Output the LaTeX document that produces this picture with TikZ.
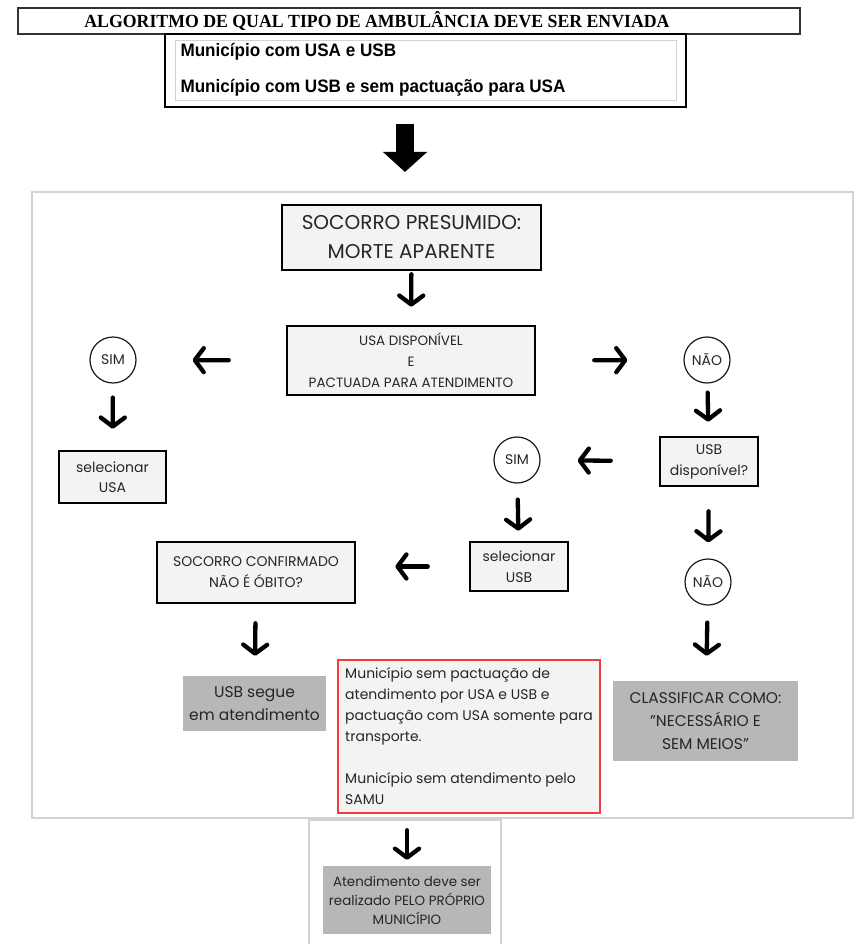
\documentclass[tikz,border=0pt]{standalone}
\usepackage{fontspec}
\setmainfont{Poppins}
\newfontfamily\titlefont[FakeStretch=0.96]{Liberation Serif}
\newfontfamily\headfont[FakeStretch=0.95]{Liberation Sans}
\usetikzlibrary{arrows.meta, positioning}

\definecolor{boxfill}{HTML}{F3F3F3}
\definecolor{darkfill}{HTML}{B7B7B7}
\definecolor{panelline}{HTML}{D3D3D3}
\definecolor{alertred}{HTML}{F03C3C}
\newcommand{\fs}[2]{\fontsize{#1}{#2}\selectfont}

\begin{document}
\begin{tikzpicture}[x=1pt, y=-1pt,
    box/.style={draw=black, line width=2.6pt, fill=boxfill, align=center, inner sep=0pt, text=black!85},
    grey/.style={fill=darkfill, align=center, inner sep=0pt, text=black!85},
    yesno/.style={circle, draw=black!90, line width=1.2pt, fill=white, minimum size=46pt, inner sep=0pt, text=black!85, font=\fs{14}{15}},
    panel/.style={draw=panelline, line width=1.5pt, inner sep=0pt},
    arr/.style={line width=4.3pt, line cap=round, -{Straight Barb[length=9pt, width=24pt, round]}},
  ]
  \useasboundingbox (0,0) rectangle (855,944);

  % header
  \node[draw=black!80, line width=1.3pt, fill=white, minimum width=782pt, minimum height=26pt, inner sep=0pt] (title) at (409,21) {};
  \node[font=\titlefont\bfseries\fs{18.5}{18.5}, inner sep=0pt] (titletext) at (377,21) {ALGORITMO DE QUAL TIPO DE AMBULÂNCIA DEVE SER ENVIADA};
  \node[draw=black, line width=2pt, fill=white, minimum width=521pt, minimum height=73pt] (mun) at (425.5,70.5) {};
  \node[draw=gray!35, line width=1pt, minimum width=501pt, minimum height=60pt] (munin) at (425.5,71) {};
  \node[anchor=west, font=\headfont\bfseries\fs{18}{18}] (mun1) at (177,51.5) {Município com USA e USB};
  \node[anchor=west, font=\headfont\bfseries\fs{18}{18}] (mun2) at (177,87.5) {Município com USB e sem pactuação para USA};

  \coordinate (bigtop) at (405,124);
  \coordinate (bigtip) at (405,172);
  \draw[line width=18pt, -{Triangle[length=20pt, width=43pt]}] (bigtop) -- (bigtip);

  % panels
  \node[panel, minimum width=821pt, minimum height=626pt] (panel) at (442.5,505) {};
  \node[panel, minimum width=192pt, minimum height=130pt] (lower) at (405,885) {};

  % flow
  \node[box, minimum width=259pt, minimum height=65pt, font=\fs{20}{29}] (presumido) at (411.5,237.5) {SOCORRO PRESUMIDO:\\MORTE APARENTE};
  \node[box, minimum width=248pt, minimum height=69pt, font=\fs{13.5}{21}] (usadisp) at (411,360.5) {USA DISPONÍVEL\\E\\PACTUADA PARA ATENDIMENTO};
  \node[yesno] (sim1) at (113,360) {SIM};
  \node[yesno] (nao1) at (707,360) {NÃO};
  \node[box, minimum width=107pt, minimum height=52pt, font=\fs{14}{20}] (selusa) at (112.5,477) {selecionar\\USA};
  \node[box, minimum width=98pt, minimum height=49pt, font=\fs{14}{21}] (usbdisp) at (709,461.5) {USB\\disponível?};
  \node[yesno] (sim2) at (517,460) {SIM};
  \node[box, minimum width=98pt, minimum height=49pt, font=\fs{14}{21}] (selusb) at (519,566.5) {selecionar\\USB};
  \node[box, minimum width=198pt, minimum height=61pt, font=\fs{14}{21}] (confirmado) at (256,572.5) {SOCORRO CONFIRMADO\\NÃO É ÓBITO?};
  \node[yesno] (nao2) at (708,582) {NÃO};
  \node[grey, minimum width=143pt, minimum height=55pt, font=\fs{15.5}{23}] (usbsegue) at (254.5,703.5) {USB segue\\em atendimento};
  \node[grey, minimum width=185pt, minimum height=80pt, font=\fs{15.5}{23}] (classificar) at (705.5,721) {CLASSIFICAR COMO:\\”NECESSÁRIO E\\SEM MEIOS”};
  \node[draw=alertred, line width=2.5pt, fill=boxfill, align=left, inner sep=0pt, text=black!85,
        minimum width=262pt, minimum height=153pt, font=\fs{14}{21}] (semsamu) at (469,736.5)
        {Município sem pactuação de\\atendimento por USA e USB e\\pactuação com USA somente para\\transporte.\\[21pt]Município sem atendimento pelo\\SAMU};
  \node[grey, minimum width=168pt, minimum height=68pt, font=\fs{13.4}{19}] (proprio) at (407,900) {Atendimento deve ser\\realizado PELO PRÓPRIO\\MUNICÍPIO};

  \path[arr]
    (presumido) edge[shorten <=3pt, shorten >=18pt] (usadisp)
    (usadisp) edge[shorten <=57pt, shorten >=56pt] (sim1)
    (usadisp) edge[shorten <=58pt, shorten >=56pt] (nao1)
    (sim1) edge[shorten <=14pt, shorten >=21pt] (selusa)
    (nao1) edge[shorten <=9pt, shorten >=14pt] (usbdisp)
    (usbdisp) edge[shorten <=48pt, shorten >=37pt] (sim2)
    (sim2) edge[shorten <=16pt, shorten >=10pt] (selusb)
    (selusb.west) edge[shorten <=41pt, shorten >=39pt] (selusb.west -| confirmado.east)
    (confirmado) edge[shorten <=19pt, shorten >=20pt] (usbsegue)
    (usbdisp) edge[shorten <=24pt, shorten >=16pt] (nao2)
    (nao2) edge[shorten <=17pt, shorten >=25pt] (classificar)
    (proprio.north |- semsamu.south) edge[shorten <=16pt, shorten >=6pt] (proprio.north);
\end{tikzpicture}
\end{document}
